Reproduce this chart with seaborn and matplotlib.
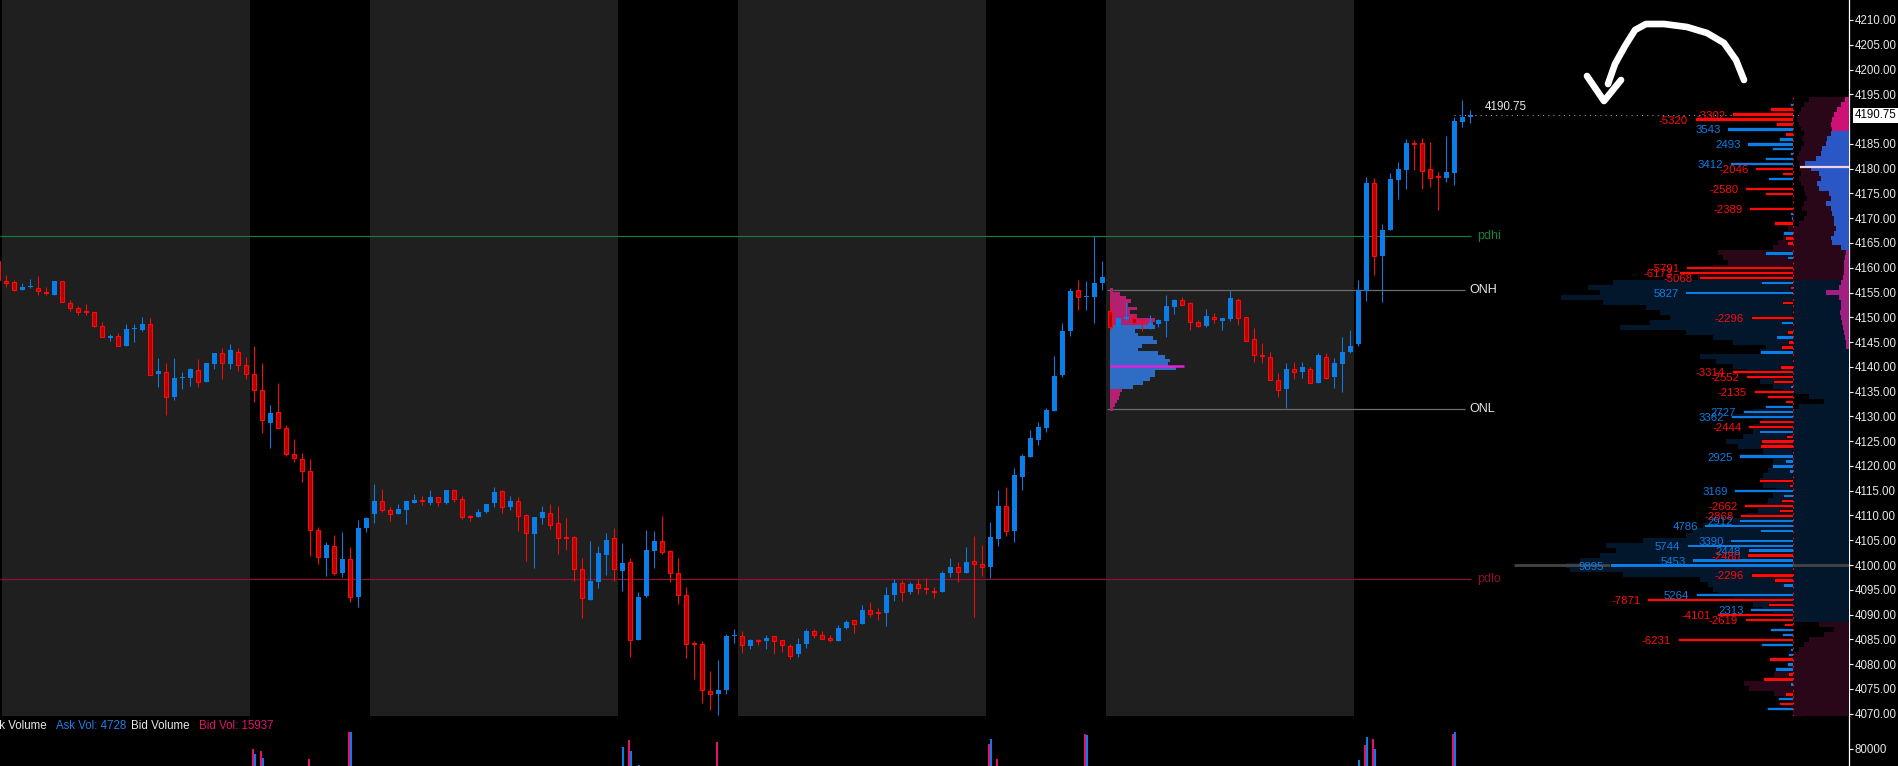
import numpy as np
import pandas as pd
import matplotlib
matplotlib.use("Agg")
import matplotlib.pyplot as plt
import seaborn as sns

# ---------------------------------------------------------------- data
first_bar = -1
opens = [4161.4, 4157.4, 4157.1, 4155.5, 4156.05, 4155.9, 4155.2, 4154.5, 4157.4, 4152.9,
         4151.9, 4151.1, 4151.1, 4148.3, 4145.8, 4146.3, 4144.2, 4147.6, 4147.5, 4148.7,
         4138.5, 4139.0, 4134.0, 4137.7, 4137.7, 4139.4, 4137.0, 4140.5, 4142.8, 4140.6,
         4143.0, 4140.4, 4138.6, 4135.4, 4128.7, 4130.8, 4127.7, 4122.5, 4121.3, 4118.9,
         4107.0, 4101.5, 4103.8, 4098.4, 4101.3, 4093.5, 4107.4, 4110.2, 4112.9, 4111.2,
         4110.2, 4111.2, 4112.6, 4113.0, 4112.6, 4113.7, 4112.5, 4115.1, 4113.3, 4109.7,
         4109.6, 4110.8, 4112.6, 4114.9, 4111.8, 4112.9, 4110.1, 4106.3, 4109.4, 4110.6,
         4108.4, 4105.5, 4105.6, 4099.2, 4093.0, 4096.5, 4102.1, 4105.4, 4098.7, 4100.6,
         4084.8, 4093.8, 4102.9, 4104.9, 4102.8, 4098.4, 4094.0, 4084.2, 4084.1, 4074.6,
         4073.9, 4074.7, 4085.6, 4085.7, 4083.6, 4084.9, 4084.6, 4085.7, 4084.9, 4083.7,
         4082.0, 4084.0, 4086.7, 4085.9, 4085.3, 4084.7, 4087.2, 4088.9, 4088.1, 4090.9,
         4090.4, 4090.4, 4094.0, 4096.4, 4094.5, 4096.1, 4095.2, 4094.7, 4094.5, 4098.3,
         4099.6, 4098.3, 4100.8, 4100.2, 4099.7, 4105.3, 4111.9, 4106.9, 4117.8, 4121.8,
         4125.3, 4127.6, 4131.1, 4138.4, 4147.2, 4155.6, 4154.0, 4154.1, 4156.9, 4151.2,
         4148.1, 4149.7, 4149.9, 4149.1, 4148.4, 4148.7, 4149.2, 4152.0, 4153.4, 4152.9,
         4149.1, 4148.2, 4150.1, 4149.2, 4149.7, 4153.5, 4150.1, 4145.7, 4142.3, 4142.0,
         4137.4, 4135.5, 4139.5, 4139.0, 4139.6, 4136.7, 4142.0, 4137.9, 4140.6, 4143.0,
         4144.7, 4155.3, 4177.1, 4162.3, 4167.6, 4177.8, 4179.8, 4185.2, 4185.1, 4179.9,
         4178.35, 4178.2, 4179.2, 4189.5, 4190.4]
highs = [4161.8, 4158.6, 4157.6, 4156.9, 4157.8, 4158.4, 4156.1, 4157.4, 4157.4, 4153.5,
         4152.2, 4152.6, 4151.1, 4149.1, 4146.7, 4146.9, 4148.7, 4148.7, 4150.1, 4149.8,
         4141.7, 4140.7, 4141.7, 4139.0, 4139.7, 4141.5, 4140.7, 4142.8, 4143.7, 4144.7,
         4143.7, 4141.9, 4144.3, 4140.7, 4132.2, 4136.7, 4128.2, 4125.4, 4122.6, 4121.4,
         4107.7, 4104.6, 4106.1, 4106.7, 4103.7, 4109.1, 4109.7, 4116.3, 4115.3, 4111.8,
         4112.3, 4112.9, 4114.3, 4113.9, 4115.1, 4113.7, 4115.1, 4115.1, 4113.9, 4110.1,
         4111.3, 4112.3, 4115.7, 4115.1, 4113.9, 4113.7, 4110.3, 4109.6, 4111.9, 4112.3,
         4111.9, 4109.5, 4105.8, 4101.4, 4104.9, 4103.9, 4106.5, 4107.4, 4104.5, 4101.4,
         4094.6, 4107.1, 4106.9, 4109.9, 4103.0, 4101.4, 4095.6, 4084.7, 4084.7, 4078.7,
         4080.9, 4086.0, 4087.0, 4086.7, 4085.1, 4085.1, 4085.9, 4085.7, 4084.9, 4084.1,
         4085.3, 4087.1, 4087.1, 4086.7, 4085.9, 4087.9, 4089.0, 4088.9, 4092.0, 4092.5,
         4091.4, 4095.6, 4097.2, 4096.9, 4096.5, 4097.2, 4097.3, 4095.5, 4098.7, 4101.4,
         4100.7, 4103.6, 4105.9, 4104.1, 4108.7, 4115.1, 4115.8, 4119.6, 4122.4, 4127.2,
         4128.9, 4131.6, 4142.2, 4148.9, 4156.0, 4157.6, 4157.4, 4166.5, 4161.4, 4153.3,
         4150.1, 4153.0, 4150.6, 4149.6, 4150.4, 4149.7, 4154.4, 4153.6, 4154.1, 4153.1,
         4149.4, 4151.6, 4150.9, 4149.9, 4155.5, 4153.9, 4150.1, 4147.9, 4144.9, 4143.0,
         4138.7, 4140.8, 4141.0, 4141.0, 4140.0, 4142.7, 4142.8, 4141.8, 4146.1, 4147.4,
         4157.6, 4178.3, 4178.1, 4168.9, 4179.1, 4181.3, 4185.9, 4185.8, 4186.1, 4185.3,
         4179.3, 4186.5, 4190.5, 4193.8, 4191.8]
lows = [4157.2, 4156.1, 4155.4, 4155.5, 4156.0, 4154.5, 4154.5, 4154.5, 4153.1, 4151.2,
        4150.4, 4150.4, 4148.0, 4146.1, 4145.2, 4144.2, 4144.2, 4145.0, 4147.3, 4138.3,
        4135.9, 4130.3, 4133.3, 4135.5, 4136.1, 4136.0, 4137.0, 4139.5, 4137.5, 4139.5,
        4139.2, 4137.5, 4132.9, 4126.7, 4123.7, 4127.7, 4122.0, 4120.7, 4116.8, 4101.9,
        4100.3, 4097.7, 4097.9, 4097.5, 4092.5, 4091.6, 4106.7, 4108.5, 4110.7, 4108.8,
        4110.2, 4108.2, 4112.6, 4112.2, 4112.2, 4112.0, 4112.4, 4112.8, 4109.2, 4108.8,
        4109.6, 4110.4, 4111.8, 4110.4, 4111.2, 4106.9, 4100.9, 4099.5, 4108.2, 4107.2,
        4102.3, 4103.1, 4096.7, 4089.4, 4093.0, 4095.3, 4097.9, 4096.7, 4094.7, 4081.4,
        4084.8, 4093.6, 4099.5, 4102.3, 4096.5, 4092.2, 4081.2, 4076.9, 4072.1, 4070.7,
        4069.7, 4073.9, 4084.3, 4082.3, 4083.1, 4083.8, 4083.0, 4082.0, 4082.5, 4081.0,
        4081.4, 4083.3, 4085.3, 4085.0, 4084.5, 4084.7, 4087.0, 4086.3, 4088.1, 4089.6,
        4089.0, 4087.6, 4092.7, 4092.7, 4094.2, 4094.1, 4094.1, 4093.3, 4094.5, 4097.5,
        4096.5, 4098.3, 4089.6, 4097.7, 4097.3, 4103.9, 4105.9, 4104.6, 4115.2, 4121.8,
        4124.3, 4126.9, 4131.1, 4137.9, 4146.2, 4151.4, 4151.4, 4148.8, 4155.6, 4147.5,
        4147.7, 4149.4, 4148.6, 4147.2, 4147.7, 4148.1, 4146.0, 4150.7, 4152.5, 4147.4,
        4148.0, 4148.0, 4148.9, 4147.4, 4149.2, 4148.4, 4145.3, 4141.0, 4140.8, 4137.4,
        4134.0, 4131.6, 4137.5, 4137.7, 4136.8, 4136.7, 4137.5, 4135.7, 4134.9, 4142.8,
        4144.2, 4153.2, 4158.6, 4153.1, 4167.6, 4173.9, 4175.9, 4179.8, 4175.9, 4176.3,
        4171.6, 4177.4, 4176.7, 4188.5, 4189.3]
closes = [4157.5, 4156.9, 4155.5, 4156.1, 4156.15, 4155.3, 4154.9, 4157.4, 4153.1, 4151.9,
          4151.1, 4151.0, 4148.2, 4146.1, 4146.3, 4144.2, 4147.7, 4147.8, 4148.7, 4138.3,
          4139.1, 4134.0, 4137.8, 4137.9, 4139.5, 4137.0, 4140.7, 4142.8, 4140.8, 4143.3,
          4140.4, 4138.5, 4135.4, 4129.2, 4130.6, 4127.7, 4122.4, 4121.5, 4118.9, 4107.0,
          4101.6, 4104.1, 4098.4, 4101.3, 4093.5, 4107.5, 4109.5, 4112.9, 4111.2, 4110.2,
          4111.3, 4112.9, 4113.1, 4112.9, 4113.7, 4112.8, 4115.1, 4113.3, 4109.6, 4109.6,
          4110.8, 4112.3, 4114.7, 4111.8, 4112.9, 4109.8, 4106.4, 4109.6, 4110.7, 4108.0,
          4105.4, 4105.4, 4099.1, 4093.3, 4096.8, 4102.5, 4105.1, 4099.2, 4100.4, 4084.8,
          4093.6, 4103.1, 4104.9, 4102.7, 4098.3, 4093.9, 4084.1, 4084.1, 4074.8, 4073.9,
          4074.8, 4085.7, 4085.7, 4083.8, 4084.9, 4084.7, 4085.3, 4084.7, 4083.8, 4081.6,
          4084.1, 4086.7, 4085.8, 4085.0, 4084.8, 4087.3, 4088.5, 4088.0, 4091.0, 4090.2,
          4090.3, 4094.0, 4096.4, 4094.5, 4096.1, 4095.3, 4095.1, 4094.6, 4098.4, 4099.6,
          4098.5, 4100.6, 4100.2, 4099.7, 4105.7, 4111.9, 4106.9, 4118.1, 4122.0, 4125.6,
          4127.8, 4131.2, 4138.1, 4147.3, 4155.4, 4154.1, 4154.1, 4157.0, 4158.2, 4148.1,
          4149.8, 4150.1, 4148.9, 4149.0, 4148.9, 4149.4, 4152.2, 4153.4, 4152.5, 4149.1,
          4148.2, 4150.3, 4149.6, 4149.8, 4153.9, 4149.9, 4145.3, 4142.3, 4142.2, 4137.4,
          4135.4, 4139.6, 4139.0, 4139.9, 4136.8, 4142.3, 4137.7, 4140.8, 4143.0, 4144.3,
          4155.5, 4177.1, 4162.3, 4167.7, 4177.9, 4180.0, 4185.1, 4184.9, 4179.6, 4178.2,
          4178.25, 4179.4, 4189.6, 4190.4, 4190.75]
last_price = 4190.75

session_starts = [0, 46, 92, 138]      # shaded (overnight) sessions, 31 bars each
session_len = 31

pdhi, pdlo = 4166.5, 4097.25
onh, onl = 4155.5, 4131.5

# overnight session profile (drawn at start of last shaded session)
on_levels = [4155.5 - 0.75 * i for i in range(33)]
on_volume = [3, 10, 16, 21, 18, 27, 20, 27, 45, 43, 45, 25, 28, 43, 47, 32, 28,
             48, 55, 60, 58, 66, 45, 45, 40, 33, 23, 12, 10, 9, 7, 5, 3]
on_poc, on_poc_volume = 4140.25, 74

# composite profile, delta per price level (4194 .. 4070)
levels = list(range(4194, 4069, -1))
comp_volume = [40, 45, 48, 50, 52, 50, 48, 45, 47, 45, 48, 50, 52, 50, 50, 48, 50, 48, 45, 44,
               42, 45, 47, 42, 45, 50, 61, 64, 66, 71, 76, 131, 126, 121, 136, 146, 151, 236, 261, 249,
               288, 246, 203, 189, 179, 199, 229, 163, 136, 116, 83, 89, 149, 133, 116, 103, 96, 89, 76, 66,
               40, 25, 50, 96, 116, 86, 96, 96, 106, 123, 111, 86, 73, 76, 76, 81, 86, 89, 86, 73,
               76, 81, 83, 91, 103, 116, 146, 156, 163, 206, 243, 233, 249, 269, 283, 279, 226, 149, 141, 136,
               131, 116, 96, 86, 76, 66, 30, 15, 25, 40, 45, 50, 55, 60, 60, 65, 75, 85, 105, 100,
               75, 65, 60, 58, 56]
delta = [60, 180, -1225, -3302, -5320, -940, 3543, -450, 760, 2493,
         1120, 150, 1530, 3412, -2046, -610, 1370, -60, -2580, -1530,
         -80, -60, -2389, 150, 120, -1040, -60, 540, -450, -320,
         -60, 1530, 320, -60, -5791, -6173, -5068, 1750, -150, 5827,
         -60, -610, -60, -60, -2296, 660, -60, -320, 930, -250,
         -660, 1800, -60, -60, -720, -3314, -2552, -1080, 150, -2135,
         -1390, -410, 1530, 2727, 3362, -1840, -2444, 1840, -400, -1750,
         -1800, -80, 2925, 450, 1130, 230, -80, -1860, -230, 3169,
         540, -630, -2662, -770, -2868, 2912, 4786, 1760, -80, 3390,
         5744, 2448, -2480, 5453, 9895, -60, -2296, -1030, 540, 80,
         5264, -7871, -1330, 2313, -4101, -2619, -500, 1260, 610, -6231,
         1750, 150, 290, -1310, 320, 970, -290, -1620, 150, -60,
         -450, 810, -770, 1420, -80]
comp_va_low, comp_va_high = 4089, 4157
comp_poc = 4100

# current session profile (4194 .. 4144)
rth_levels = list(range(4194, 4143, -1))
rth_volume = [4, 8, 12, 15, 17, 18, 17, 18, 22, 23, 27, 28, 33, 44, 38, 30, 28, 32, 30, 20,
              18, 23, 18, 17, 15, 15, 13, 15, 18, 17, 8, 3, 4, 5, 5, 5, 6, 8, 10, 23,
              10, 8, 8, 9, 8, 7, 6, 5, 4, 3, 3]
rth_va_low, rth_va_high, rth_poc = 4164, 4187, 4180.25

# volume sub-panel (bars visible above the panel floor)
vol_bars = [31, 32, 38, 43, 77, 78, 79, 89, 123, 124, 135, 169, 170, 171, 181]
ask_vol = [71100, 64100, 40000, 109300, 84000, 76400, 51800, 30000, 98000, 40000,
           104600, 60600, 101000, 80400, 109800]
bid_vol = [80400, 76900, 62300, 110400, 45000, 95800, 40000, 92200, 88700, 62800,
           106300, 40000, 87000, 98000, 106800]
ask_total, bid_total = 4728, 15937

price_ticks = [p for p in range(4070, 4211, 5) if p != 4190]
vol_ticks = [80000]

# ---------------------------------------------------------------- style
W, H = 1899, 766
BLUE = "#0a7ee6"
RED = "#ff0a0a"
RED_FILL = "#b30000"
BAND = "#1f1f1f"
NAVY = "#03172c"
MAROON = "#2a0718"
WHITE = "#e8e8e8"

sns.set_theme(style="dark", rc={"axes.facecolor": "black", "figure.facecolor": "black",
                                "axes.grid": False})
plt.rcParams['font.family'] = ['Liberation Sans', 'DejaVu Sans']

PX_PER_BAR = 8.0
X0_PX = 6.33
AX_RIGHT_PX = 1849
PANEL_BOTTOM_PX = 716
px_per_pt = 4.955
y_top = 4195 + 94.3 / px_per_pt
y_bot = 4195 - (PANEL_BOTTOM_PX - 94.3) / px_per_pt


def px2bar(px):
    return (px - X0_PX) / PX_PER_BAR


fig = plt.figure(figsize=(W / 100, H / 100), dpi=100, facecolor="black")
main_rect = [0, (H - PANEL_BOTTOM_PX) / H, AX_RIGHT_PX / W, PANEL_BOTTOM_PX / H]
ax = fig.add_axes(main_rect)
ax.set_facecolor("black")

idx = np.arange(first_bar, first_bar + len(opens))
o = np.array(opens); h = np.array(highs); l = np.array(lows); c = np.array(closes)
up = c >= o

# session shading
for s in session_starts:
    ax.axvspan(s - 0.5, s + session_len - 0.5, color=BAND, lw=0, zorder=0)

# overnight profile
on_left = px2bar(1110)
on_colors = ["#2e6dc3" if 4136.0 <= lv <= 4148.0 else "#b3206f" for lv in on_levels]
ax.barh(on_levels, np.array(on_volume) / PX_PER_BAR, left=on_left, height=0.75,
        color=on_colors, lw=0, zorder=1.5)
ax.hlines(on_poc, on_left, on_left + on_poc_volume / PX_PER_BAR, color="#e21fd9", lw=1.8, zorder=1.6)

# level lines
x_end_lines = px2bar(1471)
ax.hlines(pdhi, px2bar(0), x_end_lines, color="#127a3f", lw=0.9, zorder=1)
ax.hlines(pdlo, px2bar(0), x_end_lines, color="#8f1030", lw=0.9, zorder=1)
ax.hlines([onh, onl], px2bar(1107), px2bar(1465), color="#6c6c6c", lw=0.9, zorder=1)
ax.text(px2bar(1477), pdhi, "pdhi", color="#14803c", fontsize=9, va="center", ha="left")
ax.text(px2bar(1477), pdlo, "pdlo", color="#8f1030", fontsize=9, va="center", ha="left")
ax.text(px2bar(1469), onh, "ONH", color=WHITE, fontsize=9, va="center", ha="left")
ax.text(px2bar(1469), onl, "ONL", color=WHITE, fontsize=9, va="center", ha="left")

# last price dotted line and label
ax.hlines(last_price, px2bar(1454), px2bar(AX_RIGHT_PX), color="#a0a0a0", lw=0.75,
          linestyles=(0, (1, 4)), zorder=1)
ax.text(px2bar(1485), last_price + 1.75, f"{last_price:.2f}", color=WHITE, fontsize=8.4,
        va="center", ha="left")

# candles
body_lo = np.minimum(o, c)
body_h = np.maximum(np.abs(c - o), 0.2)
ax.vlines(idx[up], l[up], h[up], color=BLUE, lw=0.75, zorder=3)
ax.vlines(idx[~up], l[~up], h[~up], color=RED, lw=0.75, zorder=3)
ax.bar(idx[up], body_h[up], bottom=body_lo[up], width=0.62, color=BLUE, lw=0, zorder=4)
ax.bar(idx[~up], body_h[~up], bottom=body_lo[~up], width=0.54, facecolor=RED_FILL,
       edgecolor=RED, lw=0.8, zorder=4)

ax.set_xlim(px2bar(0), px2bar(AX_RIGHT_PX))
ax.set_ylim(y_bot, y_top)
ax.yaxis.tick_right()
ax.set_yticks(price_ticks)
ax.set_yticklabels([f"{p:.2f}" for p in price_ticks])
ax.tick_params(axis="y", colors="white", labelcolor=WHITE, length=2.6, width=0.8, pad=1.4,
               labelsize=8.3, right=True, left=False, labelright=True, labelleft=False)
ax.tick_params(axis="x", bottom=False, labelbottom=False)
for side in ["top", "left", "bottom"]:
    ax.spines[side].set_visible(False)
ax.spines["right"].set_color("white")
ax.spines["right"].set_linewidth(0.9)
ax.annotate(f"{last_price:.2f}", xy=(1, last_price), xycoords=("axes fraction", "data"),
            xytext=(4.0, 0), textcoords="offset points", ha="left", va="center",
            color="black", fontsize=8.3,
            bbox=dict(boxstyle="square,pad=0.12", fc="white", ec="none"))
ax.grid(False)

# ---------------- composite profile (pixel overlay)
axp = fig.add_axes(main_rect)
axp.set_xlim(0, AX_RIGHT_PX)
axp.set_ylim(y_bot, y_top)
axp.axis("off")
axp.patch.set_alpha(0)
comp_colors = [NAVY if comp_va_low <= lv <= comp_va_high else MAROON for lv in levels]
cw = np.array(comp_volume, dtype=float)
axp.barh(levels, cw, left=AX_RIGHT_PX - cw, height=1.0, color=comp_colors, lw=0, zorder=1)
rw = np.array(rth_volume, dtype=float)
rth_colors = ["#2b57c6" if rth_va_low <= lv <= rth_va_high else
              ("#cc1177" if lv > rth_va_high else "#a01f80") for lv in rth_levels]
axp.barh(rth_levels, rw, left=AX_RIGHT_PX - rw, height=1.0, color=rth_colors, lw=0, zorder=2)
axp.hlines(rth_poc, 1800, AX_RIGHT_PX, color="#f4cfe0", lw=1.6, zorder=3)
axp.hlines(comp_poc, 1514, AX_RIGHT_PX, color="#444444", lw=2.0, zorder=3)
axp.vlines(1793, 4069.6, 4194.5, color=RED, lw=0.8, linestyles=(0, (1.5, 4)), zorder=3)

# ---------------- delta bars (seaborn)
DELTA_AXIS_PX = 1793
PX_PER_DELTA = 0.0185
axd = fig.add_axes([1513 / W, main_rect[1], (DELTA_AXIS_PX - 1513) / W, main_rect[3]])
axd.patch.set_alpha(0)
ddf = pd.DataFrame({"price": levels, "delta": delta})
ddf["size"] = ddf["delta"].abs()
ddf["side"] = np.where(ddf["delta"] > 0, "ask", "bid")
sns.barplot(data=ddf, x="size", y="price", hue="side", hue_order=["ask", "bid"],
            palette={"ask": BLUE, "bid": RED}, orient="y", native_scale=True, width=0.68,
            dodge=False, saturation=1, errorbar=None, legend=False,
            edgecolor="black", linewidth=0.5, ax=axd)
for p, d in zip(levels, delta):
    if abs(d) >= 2000:
        axd.text(abs(d) + 6.5 / PX_PER_DELTA, p - 0.3, f"{d}", ha="right", va="center",
                 color=BLUE if d > 0 else RED, fontsize=8.2, zorder=5)
axd.set_xlim((DELTA_AXIS_PX - 1513) / PX_PER_DELTA, 0)
axd.set_ylim(y_bot, y_top)
axd.axis("off")

# ---------------- volume panel (seaborn)
axv = fig.add_axes([0, 0, AX_RIGHT_PX / W, (H - PANEL_BOTTOM_PX) / H])
axv.set_facecolor("black")
vdf = pd.DataFrame({"bar": vol_bars * 2, "volume": bid_vol + ask_vol,
                    "side": ["bid"] * len(vol_bars) + ["ask"] * len(vol_bars)})
sns.barplot(data=vdf, x="bar", y="volume", hue="side", hue_order=["bid", "ask"],
            palette={"bid": "#e6106e", "ask": BLUE}, native_scale=True, width=0.5,
            dodge=True, saturation=1, errorbar=None, legend=False, linewidth=0, ax=axv)
axv.set_xlim(px2bar(0), px2bar(AX_RIGHT_PX))
axv.set_ylim(50000, 138000)
axv.yaxis.tick_right()
axv.set_yticks(vol_ticks)
axv.set_yticklabels([f"{v}" for v in vol_ticks])
axv.tick_params(axis="y", colors="white", labelcolor=WHITE, length=2.6, width=0.8, pad=1.4,
                labelsize=8.3, right=True, left=False, labelright=True, labelleft=False)
axv.tick_params(axis="x", bottom=False, labelbottom=False)
axv.set_xlabel(""); axv.set_ylabel("")
for side in ["top", "left", "bottom"]:
    axv.spines[side].set_visible(False)
axv.spines["right"].set_color("white")
axv.spines["right"].set_linewidth(0.9)
axv.grid(False)

ty = 1 - 729 / H
fig.text(47 / W, ty, "Ask Volume", color=WHITE, fontsize=8.3, ha="right", va="baseline")
fig.text(56 / W, ty, f"Ask Vol: {ask_total}", color="#1e7fe6", fontsize=8.3, ha="left", va="baseline")
fig.text(131 / W, ty, "Bid Volume", color=WHITE, fontsize=8.3, ha="left", va="baseline")
fig.text(199 / W, ty, f"Bid Vol: {bid_total}", color="#e6106e", fontsize=8.3, ha="left", va="baseline")

# ---------------- hand-drawn arrow annotation
axo = fig.add_axes([0, 0, 1, 1])
axo.set_xlim(0, W); axo.set_ylim(H, 0)
axo.axis("off"); axo.patch.set_alpha(0)
curve_x = [1744, 1736, 1724, 1707, 1687, 1664, 1646, 1635, 1625, 1615, 1608]
curve_y = [80, 60, 43, 33, 27, 24, 24, 30, 46, 64, 84]
axo.plot(curve_x, curve_y, color="white", lw=4.8, solid_capstyle="round", solid_joinstyle="round")
axo.plot([1587, 1604, 1621], [76, 101, 80], color="white", lw=4.8,
         solid_capstyle="round", solid_joinstyle="round")

fig.savefig("out.png", dpi=100, facecolor="black")
